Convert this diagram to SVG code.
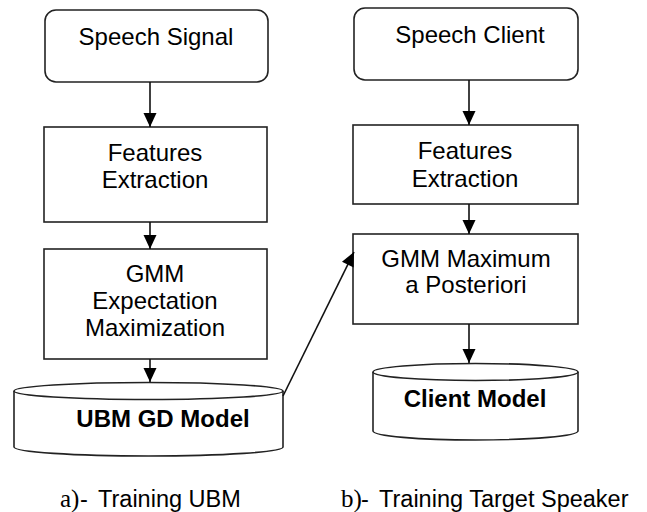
<svg xmlns="http://www.w3.org/2000/svg" width="647" height="512" viewBox="0 0 647 512">
  <style>
    .box { fill: #ffffff; stroke: #222222; stroke-width: 1.6; }
    .lbl { font-family: "Liberation Sans", Arial, sans-serif; font-size: 24px; fill: #000000; text-anchor: middle; }
    .bold { font-weight: bold; }
    .cap { font-family: "Liberation Sans", Arial, sans-serif; font-size: 23.5px; fill: #000000; }
    .capl { font-family: "Liberation Serif", "Times New Roman", serif; font-size: 25px; }
    .edge { fill: none; stroke: #111111; stroke-width: 1.6; }
  </style>
  <defs>
    <marker id="arrow" markerUnits="userSpaceOnUse" markerWidth="16" markerHeight="16" viewBox="0 0 16 16" refX="15" refY="8" orient="auto">
      <path d="M1,1.5 L15,8 L1,14.5 Z" fill="#000000"/>
    </marker>
  </defs>
  <rect width="647" height="512" fill="#ffffff"/>

  <!-- a) training of the universal background model -->
  <g id="speech-signal">
    <rect class="box" x="45" y="10" width="223" height="72" rx="11" ry="11"/>
    <text class="lbl" x="156" y="45">Speech Signal</text>
  </g>
  <g id="features-a">
    <rect class="box" x="44" y="127" width="223" height="95"/>
    <text class="lbl" x="155" y="161">Features</text>
    <text class="lbl" x="155" y="188">Extraction</text>
  </g>
  <g id="gmm-em">
    <rect class="box" x="44" y="249" width="223" height="110"/>
    <text class="lbl" x="155" y="282">GMM</text>
    <text class="lbl" x="155" y="309">Expectation</text>
    <text class="lbl" x="155" y="336">Maximization</text>
  </g>
  <g id="ubm-model">
    <path class="box" d="M14,391 L14,447 A134.5,9 0 0 0 283,447 L283,391"/>
    <ellipse class="box" cx="148.5" cy="391" rx="134.5" ry="8.5"/>
    <text class="lbl bold" x="163" y="427">UBM GD Model</text>
  </g>

  <!-- b) training of the target speaker model -->
  <g id="speech-client">
    <rect class="box" x="354" y="8" width="224" height="72" rx="11" ry="11"/>
    <text class="lbl" x="470" y="43">Speech Client</text>
  </g>
  <g id="features-b">
    <rect class="box" x="353" y="125" width="225" height="79"/>
    <text class="lbl" x="465" y="159">Features</text>
    <text class="lbl" x="465" y="187">Extraction</text>
  </g>
  <g id="gmm-map">
    <rect class="box" x="353" y="234" width="225" height="90"/>
    <text class="lbl" x="466" y="267">GMM Maximum</text>
    <text class="lbl" x="466" y="293">a Posteriori</text>
  </g>
  <g id="client-model">
    <path class="box" d="M373,372 L373,431 A102.5,9 0 0 0 578,431 L578,372"/>
    <ellipse class="box" cx="475.5" cy="372" rx="102.5" ry="8.5"/>
    <text class="lbl bold" x="475" y="407">Client Model</text>
  </g>

  <g id="connectors">
    <line class="edge" x1="150" y1="82" x2="150" y2="127" marker-end="url(#arrow)"/>
    <line class="edge" x1="150" y1="222" x2="150" y2="249" marker-end="url(#arrow)"/>
    <line class="edge" x1="150" y1="359" x2="150" y2="382" marker-end="url(#arrow)"/>
    <line class="edge" x1="469" y1="80" x2="469" y2="125" marker-end="url(#arrow)"/>
    <line class="edge" x1="469" y1="204" x2="469" y2="234" marker-end="url(#arrow)"/>
    <line class="edge" x1="469" y1="324" x2="469" y2="363" marker-end="url(#arrow)"/>
    <line class="edge" x1="283" y1="396" x2="354" y2="252" marker-end="url(#arrow)"/>
  </g>

  <g id="captions">
    <text class="cap" y="507"><tspan class="capl" x="60">a)</tspan><tspan x="80">-</tspan><tspan x="98">Training UBM</tspan></text>
    <text class="cap" y="507"><tspan class="capl" x="341">b)</tspan><tspan x="361">-</tspan><tspan x="379">Training Target Speaker</tspan></text>
  </g>
</svg>
